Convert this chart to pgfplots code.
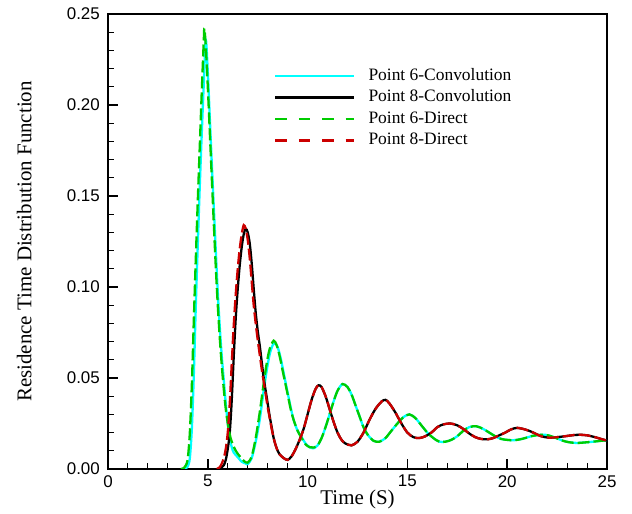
\documentclass[border=0pt]{standalone}
\usepackage{pgfplots}
\pgfplotsset{compat=1.18}
\usepackage{pgfplotstable}
\usepackage{fontspec}
\setmainfont{Liberation Serif}
\newfontfamily\arialfont{Liberation Sans}
\definecolor{ccyan}{RGB}{0,255,255}
\definecolor{cgreen}{RGB}{0,204,0}
\definecolor{cred}{RGB}{204,0,0}

\pgfplotstableread{
t v
3.75 0
3.9 0.0003
4.0 0.0015
4.1 0.006
4.2 0.022
4.3 0.052
4.4 0.090
4.5 0.124
4.6 0.156
4.7 0.185
4.8 0.212
4.9 0.2357
5.0 0.218
5.1 0.193
5.2 0.168
5.3 0.144
5.4 0.120
5.5 0.097
5.6 0.078
5.7 0.062
5.8 0.049
5.9 0.036
6.0 0.025
6.1 0.017
6.2 0.012
6.3 0.009
6.5 0.0065
6.7 0.004
6.9 0.003
7.0 0.0027
7.2 0.006
7.4 0.015
7.6 0.027
7.8 0.043
7.95 0.054
8.1 0.063
8.25 0.068
8.37 0.069
8.5 0.067
8.65 0.061
8.78 0.054
9.0 0.042
9.15 0.034
9.3 0.027
9.5 0.021
9.7 0.0175
9.9 0.014
10.1 0.012
10.3 0.0114
10.5 0.013
10.7 0.017
10.9 0.023
11.1 0.030
11.3 0.037
11.5 0.043
11.75 0.0467
12.0 0.045
12.2 0.041
12.4 0.035
12.6 0.029
12.8 0.023
13.0 0.019
13.3 0.0155
13.6 0.015
13.9 0.017
14.2 0.021
14.5 0.025
14.8 0.0285
15.1 0.030
15.4 0.028
15.7 0.024
16.0 0.020
16.3 0.017
16.6 0.015
16.9 0.015
17.2 0.016
17.5 0.018
17.8 0.021
18.1 0.023
18.45 0.0235
18.8 0.022
19.1 0.020
19.4 0.018
19.7 0.0165
20.0 0.016
20.3 0.0158
20.6 0.0162
20.9 0.017
21.2 0.018
21.5 0.0186
21.9 0.0188
22.2 0.018
22.5 0.0168
22.8 0.0155
23.1 0.0147
23.5 0.0143
23.9 0.0146
24.3 0.015
24.7 0.0155
25.0 0.0158
}\pointsixconv

\pgfplotstableread{
t v
3.65 0
3.8 0.0005
3.9 0.002
4.0 0.006
4.1 0.020
4.2 0.046
4.3 0.082
4.4 0.116
4.5 0.148
4.6 0.178
4.7 0.208
4.8 0.236
4.83 0.242
4.9 0.232
5.0 0.210
5.1 0.185
5.2 0.160
5.3 0.135
5.4 0.111
5.5 0.090
5.6 0.072
5.7 0.057
5.8 0.044
5.9 0.033
6.0 0.025
6.1 0.019
6.2 0.015
6.4 0.010
6.6 0.007
6.8 0.0045
7.0 0.0035
7.2 0.007
7.4 0.017
7.6 0.031
7.8 0.047
7.95 0.058
8.1 0.066
8.3 0.0705
8.45 0.068
8.6 0.062
8.75 0.054
9.0 0.041
9.15 0.033
9.3 0.027
9.5 0.021
9.7 0.017
9.9 0.0135
10.1 0.012
10.3 0.0118
10.5 0.013
10.7 0.017
10.9 0.023
11.1 0.030
11.3 0.037
11.5 0.043
11.75 0.0467
12.0 0.045
12.2 0.041
12.4 0.035
12.6 0.029
12.8 0.023
13.0 0.019
13.3 0.0155
13.6 0.015
13.9 0.017
14.2 0.021
14.5 0.025
14.8 0.0285
15.1 0.030
15.4 0.028
15.7 0.024
16.0 0.020
16.3 0.017
16.6 0.015
16.9 0.015
17.2 0.016
17.5 0.018
17.8 0.021
18.1 0.023
18.45 0.0235
18.8 0.022
19.1 0.020
19.4 0.018
19.7 0.0165
20.0 0.016
20.3 0.0158
20.6 0.0162
20.9 0.017
21.2 0.018
21.5 0.0186
21.9 0.0188
22.2 0.018
22.5 0.0168
22.8 0.0155
23.1 0.0147
23.5 0.0143
23.9 0.0146
24.3 0.015
24.7 0.0155
25.0 0.0158
}\pointsixdirect

\pgfplotstableread{
t v
5.55 0
5.7 0.001
5.8 0.002
5.9 0.005
6.0 0.011
6.1 0.020
6.2 0.038
6.3 0.062
6.4 0.083
6.5 0.099
6.6 0.112
6.7 0.122
6.8 0.129
6.9 0.132
7.0 0.130
7.1 0.124
7.2 0.113
7.3 0.099
7.4 0.086
7.5 0.076
7.6 0.068
7.7 0.059
7.8 0.050
7.9 0.043
8.0 0.036
8.1 0.029
8.2 0.023
8.3 0.017
8.4 0.013
8.5 0.010
8.6 0.008
8.8 0.006
9.0 0.005
9.2 0.007
9.4 0.011
9.6 0.016
9.8 0.022
10.0 0.030
10.2 0.038
10.4 0.044
10.55 0.046
10.7 0.045
10.9 0.040
11.1 0.033
11.3 0.026
11.5 0.020
11.7 0.016
11.9 0.014
12.2 0.013
12.5 0.015
12.8 0.020
13.1 0.027
13.4 0.033
13.7 0.037
13.9 0.038
14.1 0.036
14.4 0.031
14.7 0.025
15.0 0.020
15.3 0.0175
15.6 0.017
15.9 0.018
16.2 0.020
16.5 0.023
16.8 0.0245
17.15 0.025
17.5 0.024
17.8 0.022
18.1 0.0195
18.4 0.0175
18.7 0.0165
19.0 0.0163
19.3 0.017
19.6 0.0185
19.9 0.020
20.2 0.0218
20.5 0.0226
20.8 0.022
21.1 0.021
21.4 0.0195
21.7 0.018
22.1 0.0172
22.5 0.0175
22.9 0.018
23.3 0.0186
23.65 0.0188
24.0 0.0185
24.4 0.0175
24.7 0.0165
25.0 0.0156
}\pointeightconv

\pgfplotstableread{
t v
5.45 0
5.6 0.001
5.7 0.003
5.8 0.006
5.9 0.011
6.0 0.020
6.1 0.036
6.2 0.058
6.3 0.079
6.4 0.096
6.5 0.110
6.6 0.121
6.7 0.129
6.8 0.134
6.9 0.132
7.0 0.126
7.1 0.116
7.2 0.103
7.3 0.090
7.4 0.080
7.5 0.071
7.6 0.063
7.7 0.055
7.8 0.048
7.9 0.041
8.0 0.034
8.1 0.028
8.2 0.022
8.3 0.017
8.4 0.013
8.5 0.010
8.6 0.008
8.8 0.006
9.0 0.005
9.2 0.007
9.4 0.011
9.6 0.016
9.8 0.022
10.0 0.030
10.2 0.038
10.4 0.044
10.55 0.046
10.7 0.045
10.9 0.040
11.1 0.033
11.3 0.026
11.5 0.020
11.7 0.016
11.9 0.014
12.2 0.013
12.5 0.015
12.8 0.020
13.1 0.027
13.4 0.033
13.7 0.037
13.9 0.038
14.1 0.036
14.4 0.031
14.7 0.025
15.0 0.020
15.3 0.0175
15.6 0.017
15.9 0.018
16.2 0.020
16.5 0.023
16.8 0.0245
17.15 0.025
17.5 0.024
17.8 0.022
18.1 0.0195
18.4 0.0175
18.7 0.0165
19.0 0.0163
19.3 0.017
19.6 0.0185
19.9 0.020
20.2 0.0218
20.5 0.0226
20.8 0.022
21.1 0.021
21.4 0.0195
21.7 0.018
22.1 0.0172
22.5 0.0175
22.9 0.018
23.3 0.0186
23.65 0.0188
24.0 0.0185
24.4 0.0175
24.7 0.0165
25.0 0.0156
}\pointeightdirect

\begin{document}
\begin{tikzpicture}
\begin{axis}[
  scale only axis, width=499bp, height=455bp,
  xmin=0, xmax=25, ymin=0, ymax=0.25,
  axis line style={line width=2.5bp},
  tick pos=left, tick align=inside,
  xtick={0,5,10,15,20,25}, ytick={0,0.05,0.1,0.15,0.2,0.25},
  minor x tick num=4, minor y tick num=4,
  major tick length=10bp, minor tick length=6bp,
  every major tick/.style={line width=1.6bp, black},
  every minor tick/.style={line width=1bp, black},
  scaled y ticks=false,
  /pgf/number format/assume math mode=true,
  tick label style={font=\arialfont\fontsize{17}{17}\selectfont, inner sep=0pt},
  yticklabel style={/pgf/number format/fixed, /pgf/number format/fixed zerofill, /pgf/number format/precision=2, xshift=-8bp},
  xticklabel style={yshift=-6bp},
  xlabel={Time (S)}, ylabel={Residence Time Distribution Function},
  every axis x label/.style={at={(axis description cs:0.5,-0.066)}, anchor=center, font=\fontsize{21}{21}\selectfont},
  every axis y label/.style={at={(axis description cs:-0.168,0.5)}, rotate=90, anchor=center, font=\fontsize{21}{21}\selectfont},
  legend cell align=left,
  legend style={draw=none, fill=none, at={(axis description cs:0.3267,0.886)}, anchor=north west, font=\fontsize{17.5}{17.5}\selectfont, row sep=5.5bp, column sep=13bp, nodes={inner sep=0pt, text height=12bp, text depth=4bp}},
  legend image code/.code={\draw[#1] (0bp,0bp) -- (79bp,0bp);},
  every axis plot/.append style={line width=2.3bp, smooth},
]
\addplot[ccyan] table[x=t,y=v] {\pointsixconv};
\addlegendentry{Point 6-Convolution}
\addplot[black] table[x=t,y=v] {\pointeightconv};
\addlegendentry{Point 8-Convolution}
\addplot[cgreen, dash pattern=on 12bp off 4bp, legend image post style={dash pattern=on 11.7bp off 11.7bp}] table[x=t,y=v] {\pointsixdirect};
\addlegendentry{Point 6-Direct}
\addplot[cred, dash pattern=on 12bp off 4bp, legend image post style={dash pattern=on 11.7bp off 11.7bp}] table[x=t,y=v] {\pointeightdirect};
\addlegendentry{Point 8-Direct}
\end{axis}
\pgfresetboundingbox
\path[use as bounding box] (-108bp,-45bp) rectangle (524bp,469bp);
\end{tikzpicture}
\end{document}
